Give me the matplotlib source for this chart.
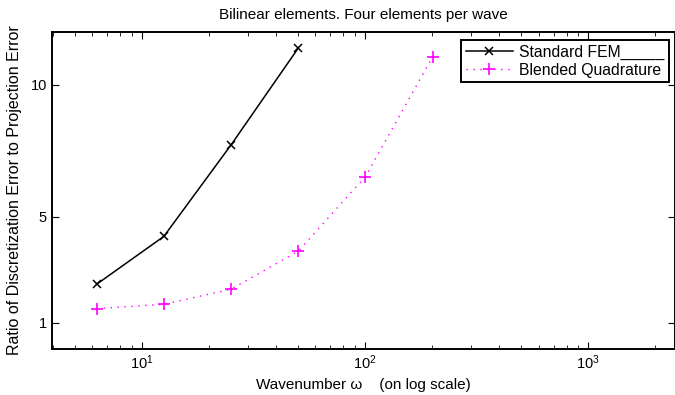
import numpy as np
import matplotlib
matplotlib.use("Agg")
import matplotlib.pyplot as plt
from matplotlib.ticker import LogLocator, FixedLocator

plt.rcParams['font.family'] = ['Liberation Sans', 'DejaVu Sans']

omega_std = [6.283, 12.566, 25.133, 50.265]
ratio_std = [2.45, 4.26, 7.72, 11.38]
omega_bq = [6.283, 12.566, 25.133, 50.265, 100.53, 201.06]
ratio_bq = [1.53, 1.69, 2.26, 3.70, 6.52, 11.05]
yticks = [1, 5, 10]

fig = plt.figure(figsize=(6.75, 3.95), dpi=100)
ax = fig.add_axes([51.7/675, 1-349/395, (675-51.7)/675, (349-31.7)/395])

ax.plot(omega_std, ratio_std, color='black', lw=1.1, marker='x', ms=6, mew=1.1,
        label='Standard FEM_____')
ax.plot(omega_bq, ratio_bq, color='#ff00ff', lw=1.0, ls=(0, (1, 4)), marker='+', ms=9,
        mew=1.2, label='Blended Quadrature')

ax.set_xscale('log')
ax.set_xlim(3.95, 2450)
ax.set_ylim(0, 12)
ax.yaxis.set_major_locator(FixedLocator(yticks))
ax.set_yticklabels([str(v) for v in yticks])
ax.xaxis.set_major_locator(LogLocator(base=10, numticks=10))
ax.xaxis.set_minor_locator(LogLocator(base=10, subs=np.arange(2, 10), numticks=20))

ax.tick_params(which='both', direction='in', top=True, right=True, labelsize=10.5)
ax.tick_params(which='major', length=5, width=0.8)
ax.tick_params(which='minor', length=3, width=0.6)
for s in ax.spines.values():
    s.set_linewidth(1.4)

ax.set_title('Bilinear elements. Four elements per wave', fontsize=11, pad=9)
ax.set_xlabel('Wavenumber \u03c9    (on log scale)', fontsize=11, labelpad=4)
ax.set_ylabel('Ratio of Discretization Error to Projection Error', fontsize=11.5, labelpad=6)

leg = ax.legend(loc='upper right', bbox_to_anchor=((669 - 51.7)/(675 - 51.7), 1 - 8/317.3),
                bbox_transform=ax.transAxes, fontsize=11.3, frameon=True, fancybox=False,
                framealpha=1, edgecolor='black', handlelength=3.0, borderpad=0.3,
                labelspacing=0.2, handletextpad=0.4, borderaxespad=0)
leg.get_frame().set_linewidth(1.4)

fig.savefig('out.png', dpi=100)
